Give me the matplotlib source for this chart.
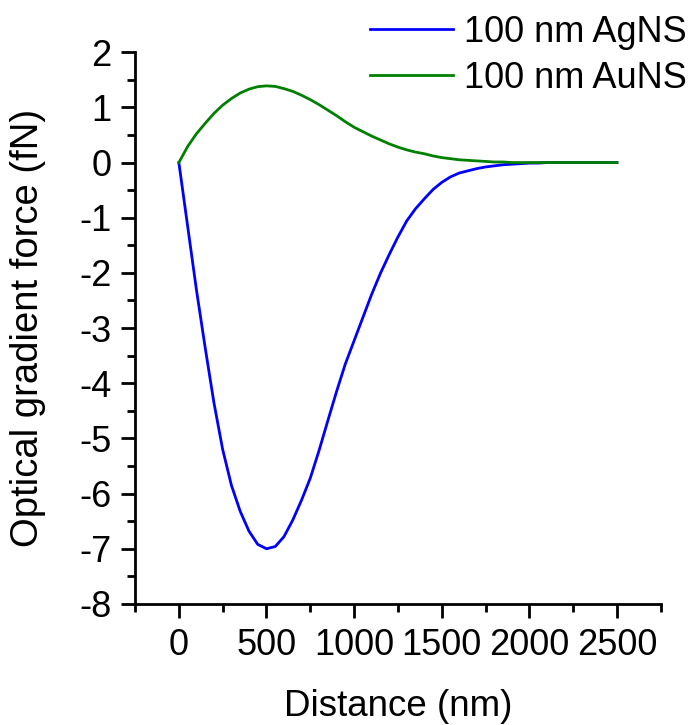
import matplotlib
matplotlib.use("Agg")
import matplotlib.pyplot as plt
from matplotlib.ticker import MultipleLocator

# distance (nm), sampled every 50 nm
distance = list(range(0, 2550, 50))

# 100 nm AgNS force (fN)
ag_force = [0, -1.15, -2.3, -3.35, -4.35, -5.2, -5.85, -6.32, -6.68, -6.92,
            -7.0, -6.96, -6.78, -6.48, -6.12, -5.72, -5.22, -4.68, -4.15, -3.65,
            -3.23, -2.81, -2.39, -2.01, -1.67, -1.35, -1.06, -0.84, -0.66, -0.49,
            -0.36, -0.26, -0.19, -0.15, -0.11, -0.08, -0.06, -0.04, -0.03, -0.02,
            -0.01, -0.01, 0, 0, 0, 0, 0, 0, 0, 0, 0]

# 100 nm AuNS force (fN)
au_force = [0, 0.29, 0.52, 0.71, 0.89, 1.04, 1.16, 1.26, 1.33, 1.375,
            1.39, 1.38, 1.34, 1.29, 1.22, 1.14, 1.05, 0.95, 0.85, 0.74,
            0.64, 0.56, 0.48, 0.41, 0.34, 0.28, 0.23, 0.19, 0.16, 0.12,
            0.09, 0.07, 0.05, 0.04, 0.03, 0.02, 0.01, 0.01, 0, 0,
            0, 0, 0, 0, 0, 0, 0, 0, 0, 0, 0]

plt.rcParams['font.family'] = ['Liberation Sans', 'DejaVu Sans']
plt.rcParams['axes.unicode_minus'] = False

fig = plt.figure(figsize=(6.89, 7.25), dpi=100)
ax = fig.add_axes([0.196, 0.167, 0.763, 0.761])

ax.plot(distance, ag_force, color='#0000ff', lw=2, label='100 nm AgNS')
ax.plot(distance, au_force, color='#008000', lw=2, label='100 nm AuNS')

ax.set_xlim(-250, 2750)
ax.set_ylim(-8, 2)
ax.xaxis.set_major_locator(MultipleLocator(500))
ax.xaxis.set_minor_locator(MultipleLocator(250))
ax.yaxis.set_major_locator(MultipleLocator(1))
ax.yaxis.set_minor_locator(MultipleLocator(0.5))

for side in ['top', 'right']:
    ax.spines[side].set_visible(False)
for side in ['left', 'bottom']:
    ax.spines[side].set_linewidth(2)

ax.tick_params(which='major', direction='out', length=10, width=2, labelsize=26, pad=7)
ax.tick_params(which='minor', direction='out', length=5.5, width=2)

ax.set_xlabel('Distance (nm)', fontsize=26.5, labelpad=19)
ax.set_ylabel('Optical gradient force (fN)', fontsize=27.5)
ax.yaxis.set_label_coords(-0.17, 0.5)

fig.legend(loc='upper right', bbox_to_anchor=(0.997, 0.98), frameon=False,
           fontsize=26, handlelength=2.3, handletextpad=0.3, labelspacing=0.32,
           borderpad=0, borderaxespad=0)

fig.savefig('out.png', dpi=100)
